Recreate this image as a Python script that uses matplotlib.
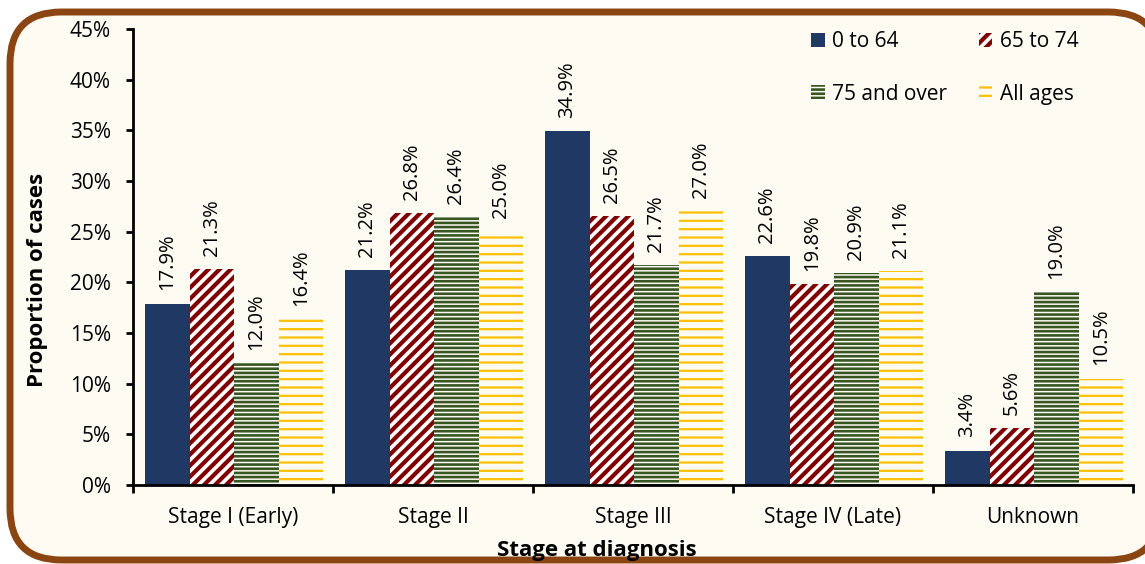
import numpy as np
import matplotlib.pyplot as plt
from matplotlib.patches import FancyBboxPatch

stages = ["Stage I (Early)", "Stage II", "Stage III", "Stage IV (Late)", "Unknown"]
age_0_64 = [17.9, 21.2, 34.9, 22.6, 3.4]
age_65_74 = [21.3, 26.8, 26.5, 19.8, 5.6]
age_75_over = [12.0, 26.4, 21.7, 20.9, 19.0]
all_ages = [16.4, 25.0, 27.0, 21.1, 10.5]
series_names = ["0 to 64", "65 to 74", "75 and over", "All ages"]

cream = "#FEFBF3"
plt.rcParams['font.family'] = ['Open Sans', 'DejaVu Sans']

fig = plt.figure(figsize=(11.45, 5.64), dpi=100, facecolor=cream)
fig.patch.set_visible(False)

# rounded brown frame
frame = FancyBboxPatch((10 / 1145, 4 / 564), 1150 / 1145, 548 / 564,
                       boxstyle="round,pad=0,rounding_size=0.045",
                       transform=fig.transFigure, facecolor=cream,
                       edgecolor="#8B4513", linewidth=5, zorder=-10,
                       mutation_aspect=1145 / 564)
fig.patches.append(frame)

ax = fig.add_axes([133 / 1145, 79 / 564, 1000 / 1145, 456 / 564])
ax.set_facecolor("none")

x = np.arange(len(stages))
w = 0.2225
offsets = (np.arange(4) - 1.5) * w + 0.005

styles = [
    dict(color="#1F3864", hatch=None, edge="#1F3864", hlw=1.0),
    dict(color="white", hatch="///", edge="#800000", hlw=3.0),
    dict(color=cream, hatch="----", edge="#375623", hlw=1.9),
    dict(color=cream, hatch="--", edge="#FFC000", hlw=1.6),
]
data = [age_0_64, age_65_74, age_75_over, all_ages]

handles = []
for vals, off, st, name in zip(data, offsets, styles, series_names):
    with plt.rc_context({'hatch.linewidth': st["hlw"]}):
        bars = ax.bar(x + off, vals, w, color=st["color"], hatch=st["hatch"],
                      edgecolor=st["edge"], linewidth=0, label=name)
        for b in bars:
            if hasattr(b, "set_hatch_linewidth"):
                b.set_hatch_linewidth(st["hlw"])
    handles.append(bars)
    for xi, v in zip(x + off, vals):
        ax.annotate(f"{v:.1f}%", (xi, v), xytext=(0, 9.5), textcoords="offset points",
                    rotation=90, ha="center", va="bottom", fontsize=14.5)

ax.set_ylim(0, 45)
ax.set_xlim(-0.5, 4.5)
ax.set_yticks(np.arange(0, 46, 5))
ax.set_yticklabels([f"{t}%" for t in range(0, 46, 5)], fontsize=15)
ax.tick_params(axis="y", direction="out", length=5, width=2, pad=11)

ax.set_xticks(np.arange(-0.5, 5, 1))
ax.set_xticklabels([])
ax.tick_params(axis="x", which="major", direction="out", length=6, width=2)
ax.set_xticks(x, minor=True)
ax.set_xticklabels(stages, minor=True, fontsize=15)
ax.tick_params(axis="x", which="minor", length=0, pad=16)

for s in ["top", "right"]:
    ax.spines[s].set_visible(False)
for s in ["left", "bottom"]:
    ax.spines[s].set_linewidth(2)

ax.set_ylabel("Proportion of cases", fontsize=16, fontweight="bold")
ax.yaxis.set_label_coords(-0.085, 0.45)
ax.set_xlabel("Stage at diagnosis", fontsize=16, fontweight="bold")
ax.xaxis.set_label_coords(0.464, -0.12)

order = [0, 2, 1, 3]
leg = ax.legend([handles[i] for i in order], [series_names[i] for i in order],
                ncol=2, loc="upper left", bbox_to_anchor=(0.678, 0.995), frameon=False,
                fontsize=15, handlelength=0.65, handleheight=0.65, handletextpad=0.34,
                columnspacing=1.55, labelspacing=1.5, borderpad=0, borderaxespad=0)
for p, i in zip(leg.get_patches(), order):
    if hasattr(p, "set_hatch_linewidth"):
        p.set_hatch_linewidth(styles[i]["hlw"])

fig.savefig("out.png", dpi=100, facecolor=fig.get_facecolor())
